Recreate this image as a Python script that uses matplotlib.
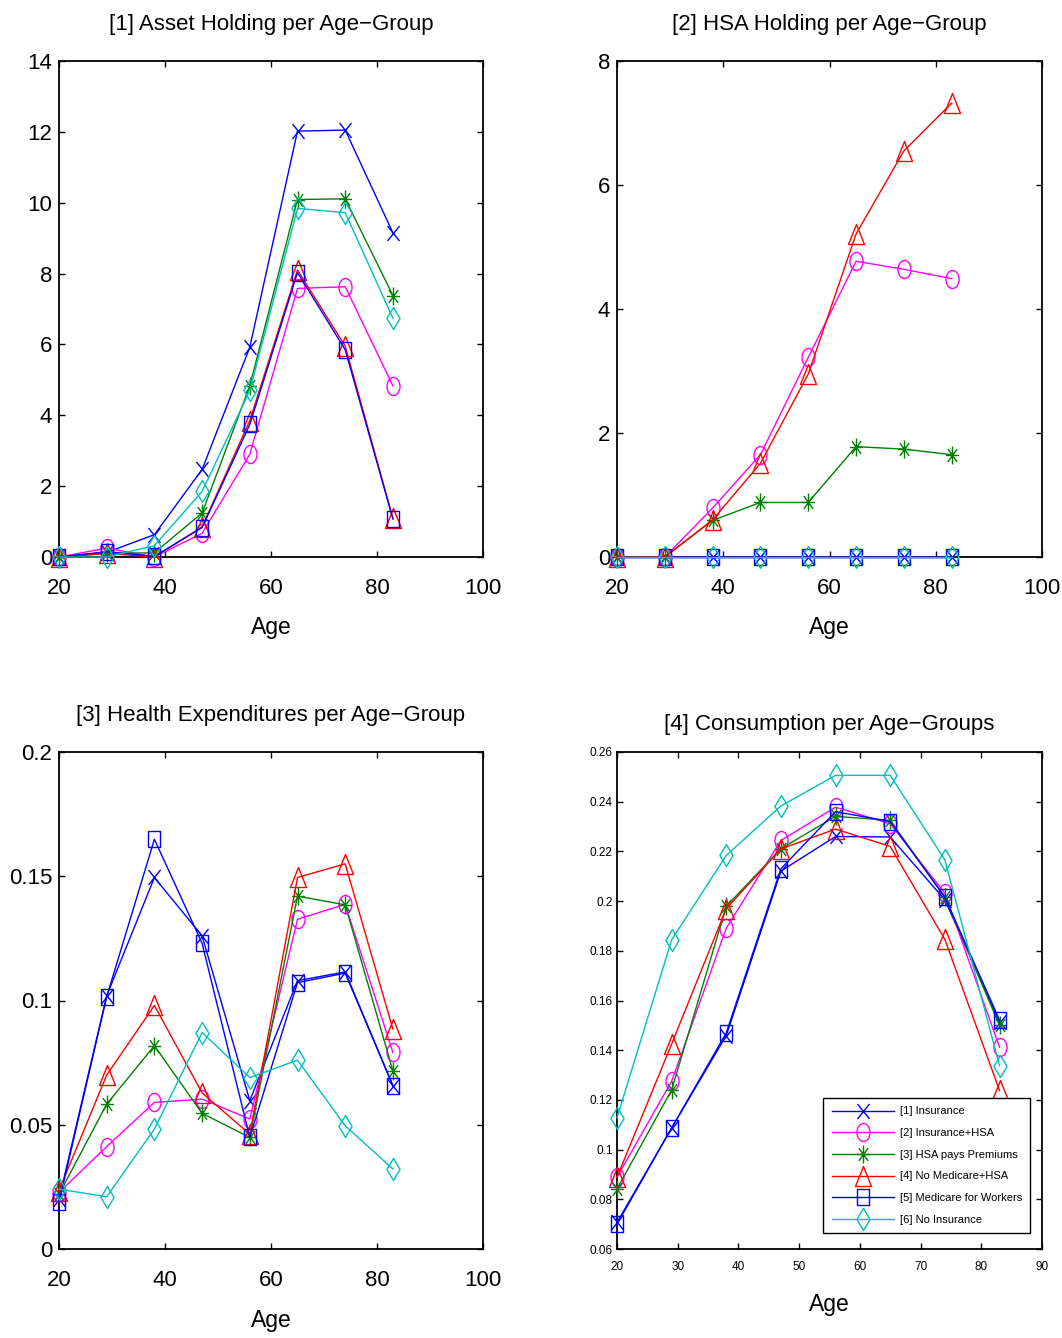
import numpy as np
import matplotlib
matplotlib.use("Agg")
import matplotlib.pyplot as plt
from matplotlib.path import Path
from matplotlib.transforms import Affine2D
from matplotlib import font_manager

# ---------------- data ----------------
ages = [20, 29, 38, 47, 56, 65, 74, 83]
labels = ["[1] Insurance", "[2] Insurance+HSA", "[3] HSA pays Premiums",
          "[4] No Medicare+HSA", "[5] Medicare for Workers", "[6] No Insurance"]

asset_ins = [0.0, 0.13, 0.63, 2.47, 5.92, 12.02, 12.05, 9.15]
asset_ins_hsa = [0.0, 0.25, 0.0, 0.67, 2.90, 7.58, 7.63, 4.83]
asset_hsa_prem = [0.0, 0.10, 0.12, 1.24, 4.83, 10.09, 10.11, 7.38]
asset_no_medicare = [0.0, 0.10, 0.0, 0.85, 3.85, 8.10, 5.95, 1.10]
asset_med_workers = [0.0, 0.15, 0.02, 0.83, 3.74, 8.03, 5.85, 1.07]
asset_no_ins = [0.0, 0.0, 0.32, 1.85, 4.70, 9.84, 9.72, 6.74]

hsa_ins = [0, 0, 0, 0, 0, 0, 0, 0]
hsa_ins_hsa = [0.0, 0.0, 0.79, 1.65, 3.22, 4.77, 4.64, 4.49]
hsa_hsa_prem = [0.0, 0.0, 0.59, 0.88, 0.88, 1.78, 1.74, 1.65]
hsa_no_medicare = [0.0, 0.0, 0.60, 1.51, 2.95, 5.21, 6.55, 7.32]
hsa_med_workers = [0, 0, 0, 0, 0, 0, 0, 0]
hsa_no_ins = [0, 0, 0, 0, 0, 0, 0, 0]

hx_ins = [0.0200, 0.1019, 0.1495, 0.1260, 0.0597, 0.1080, 0.1115, 0.0657]
hx_ins_hsa = [0.0228, 0.0412, 0.0590, 0.0603, 0.0523, 0.1327, 0.1387, 0.0791]
hx_hsa_prem = [0.0220, 0.0583, 0.0818, 0.0546, 0.0449, 0.1420, 0.1385, 0.0717]
hx_no_medicare = [0.0235, 0.0700, 0.0980, 0.0628, 0.0462, 0.1495, 0.1550, 0.0885]
hx_med_workers = [0.0188, 0.1015, 0.1649, 0.1230, 0.0449, 0.1072, 0.1110, 0.0657]
hx_no_ins = [0.0241, 0.0210, 0.0483, 0.0871, 0.0690, 0.0760, 0.0496, 0.0322]

c_ins = [0.0707, 0.1087, 0.1459, 0.2121, 0.2260, 0.2258, 0.2005, 0.1513]
c_ins_hsa = [0.0889, 0.1275, 0.1891, 0.2244, 0.2378, 0.2311, 0.2032, 0.1412]
c_hsa_prem = [0.0842, 0.1240, 0.1979, 0.2211, 0.2341, 0.2325, 0.2016, 0.1500]
c_no_medicare = [0.0889, 0.1425, 0.1970, 0.2210, 0.2290, 0.2220, 0.1846, 0.1238]
c_med_workers = [0.0700, 0.1087, 0.1470, 0.2130, 0.2360, 0.2320, 0.2016, 0.1522]
c_no_ins = [0.1128, 0.1844, 0.2184, 0.2383, 0.2506, 0.2506, 0.2166, 0.1338]

titles = ["[1] Asset Holding per Age\u2212Group", "[2] HSA Holding per Age\u2212Group",
          "[3] Health Expenditures per Age\u2212Group", "[4] Consumption per Age\u2212Groups"]

# ---------------- style ----------------
names = [f.name for f in font_manager.fontManager.ttflist]
FONT = "Liberation Sans Narrow" if "Liberation Sans Narrow" in names else "Liberation Sans"
plt.rcParams['font.family'] = [FONT, 'DejaVu Sans']

colors = [(0, 0, 1), (1, 0, 1), (0, 0.5, 0), (1, 0, 0), (0, 0, 1), (0, 0.75, 0.75)]


def seg_path(segs):
    verts, codes = [], []
    for (a, b) in segs:
        verts += [a, b]
        codes += [Path.MOVETO, Path.LINETO]
    return Path(verts, codes)


def closed(pts):
    verts = list(pts) + [pts[0]]
    codes = [Path.MOVETO] + [Path.LINETO] * (len(pts) - 1) + [Path.CLOSEPOLY]
    return Path(verts, codes)


m_x = seg_path([((-0.8, -1), (0.8, 1)), ((-0.8, 1), (0.8, -1))])
m_o = Path.unit_circle().transformed(Affine2D().scale(0.72, 1.0))
m_star = seg_path([((-0.72, 0), (0.72, 0)), ((0, -1), (0, 1)),
                   ((-0.51, -0.71), (0.51, 0.71)), ((-0.51, 0.71), (0.51, -0.71))])
m_tri = closed([(0, 1), (-0.8, -1), (0.8, -1)])
m_sq = closed([(-0.7, -1), (0.7, -1), (0.7, 1), (-0.7, 1)])
m_dia = closed([(0, 1), (0.6, 0), (0, -1), (-0.6, 0)])
markers = [m_x, m_o, m_star, m_tri, m_sq, m_dia]
msizes = [10.8, 13, 13, 14.4, 12.2, 15.8]

W, H = 1062, 1338
fig = plt.figure(figsize=(W / 100, H / 100), dpi=100)


def rect(l, t, r, b):
    return [l / W, 1 - b / H, (r - l) / W, (b - t) / H]


ax1 = fig.add_axes(rect(59, 61, 483, 557))
ax2 = fig.add_axes(rect(617, 61, 1042, 557))
ax3 = fig.add_axes(rect(59, 752, 483, 1249))
ax4 = fig.add_axes(rect(617, 752, 1042, 1249))

datasets = [
    [asset_ins, asset_ins_hsa, asset_hsa_prem, asset_no_medicare, asset_med_workers, asset_no_ins],
    [hsa_ins, hsa_ins_hsa, hsa_hsa_prem, hsa_no_medicare, hsa_med_workers, hsa_no_ins],
    [hx_ins, hx_ins_hsa, hx_hsa_prem, hx_no_medicare, hx_med_workers, hx_no_ins],
    [c_ins, c_ins_hsa, c_hsa_prem, c_no_medicare, c_med_workers, c_no_ins],
]
axes = [ax1, ax2, ax3, ax4]
lines4 = []
for ax, data in zip(axes, datasets):
    for i, ser in enumerate(data):
        ln, = ax.plot(ages, ser, color=colors[i], lw=1.0, marker=markers[i],
                      ms=msizes[i], mfc='none', mec=colors[i], mew=1.0,
                      label=labels[i], clip_on=False, zorder=3)
        if ax is ax4:
            lines4.append(ln)

big = 16
small = 8.5
# axis ranges
ax1.set_xlim(20, 100); ax1.set_ylim(0, 14)
ax1.set_xticks([20, 40, 60, 80, 100]); ax1.set_yticks([0, 2, 4, 6, 8, 10, 12, 14])
ax2.set_xlim(20, 100); ax2.set_ylim(0, 8)
ax2.set_xticks([20, 40, 60, 80, 100]); ax2.set_yticks([0, 2, 4, 6, 8])
ax3.set_xlim(20, 100); ax3.set_ylim(0, 0.2)
ax3.set_xticks([20, 40, 60, 80, 100]); ax3.set_yticks([0, 0.05, 0.1, 0.15, 0.2])
ax3.set_yticklabels(["0", "0.05", "0.1", "0.15", "0.2"])
ax4.set_xlim(20, 90); ax4.set_ylim(0.06, 0.26)
ax4.set_xticks([20, 30, 40, 50, 60, 70, 80, 90])
yt4 = [0.06, 0.08, 0.1, 0.12, 0.14, 0.16, 0.18, 0.2, 0.22, 0.24, 0.26]
ax4.set_yticks(yt4)
ax4.set_yticklabels(["0.06", "0.08", "0.1", "0.12", "0.14", "0.16", "0.18", "0.2",
                     "0.22", "0.24", "0.26"])

label_y = [-0.119, -0.119, -0.121, -0.0885]
title_pad = [22, 22, 22, 16]
for k, ax in enumerate(axes):
    fs = small if ax is ax4 else big
    for s in ax.spines.values():
        s.set_linewidth(1.3)
    ax.tick_params(direction='in', top=True, right=True, length=4.5, width=1.0,
                   labelsize=fs, pad=(3 if ax is ax4 else 5))
    ax.tick_params(axis='x', pad=(9 if ax is ax4 else 15))
    ax.set_title(titles[k], fontsize=big, pad=title_pad[k])
    ax.set_xlabel("Age", fontsize=big + 0.5, va='top')
    ax.xaxis.set_label_coords(0.5, label_y[k])

ax4.legend(handles=lines4, loc='lower right', bbox_to_anchor=(0.972, 0.032),
           borderaxespad=0, fontsize=8, handlelength=5.6, labelspacing=1.05,
           fancybox=False, edgecolor='black', framealpha=1, borderpad=0.75,
           handletextpad=0.5)
leg = ax4.get_legend()
leg.get_frame().set_linewidth(1.0)

fig.savefig("out.png", dpi=100)
